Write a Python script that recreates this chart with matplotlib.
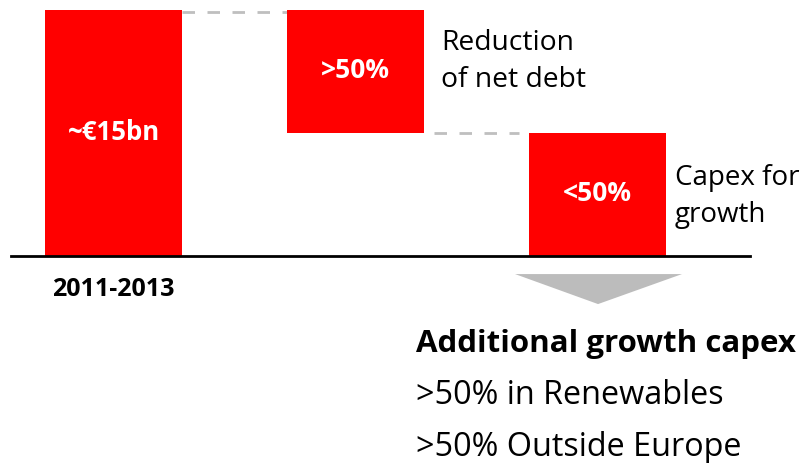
import matplotlib
matplotlib.use("Agg")
import matplotlib.pyplot as plt
from matplotlib.patches import Polygon

plt.rcParams['font.family'] = ['Open Sans', 'DejaVu Sans']

# Waterfall data (EUR bn)
steps = ["2011-2013", "Reduction of net debt", "Capex for growth"]
total = 15.0
debt_reduction = 7.5
growth_capex = 7.5
bar_labels = ["~€15bn", ">50%", "<50%"]
side_labels = ["Reduction\nof net debt", "Capex for\ngrowth"]
tick_label = "2011-2013"
summary_title = "Additional growth capex"
summary_lines = [">50% in Renewables", ">50% Outside Europe"]

RED = "#FF0000"
GREY = "#BFBFBF"

fig = plt.figure(figsize=(8.04, 4.63), dpi=100)
ax = fig.add_axes([0, 0, 1, 1])
ax.set_xlim(-0.469, 2.853)
ax.set_ylim(-12.62, 15.61)
ax.axis("off")

width = 0.566
x = [0, 1, 2]
bottoms = [0, total - debt_reduction, 0]
heights = [total, debt_reduction, growth_capex]
ax.bar(x, heights, bottom=bottoms, width=width, color=RED, zorder=2)

# connectors between bar tops
ax.plot([x[0] + width / 2, x[1] - width / 2], [total - 0.12, total - 0.12],
        color=GREY, lw=2.0, dashes=(4.5, 4.5), zorder=1)
ax.plot([x[1] + width / 2 + 0.04, x[2] - width / 2 - 0.04], [total - debt_reduction] * 2,
        color=GREY, lw=2.0, dashes=(4.5, 4.5), zorder=1)

# baseline
ax.plot([-0.4236, 2.63], [0, 0], color="black", lw=2.0, zorder=3)

# values inside bars
for xi, b, h, lab, fs in zip(x, bottoms, heights, bar_labels, [18.5, 19, 19]):
    ax.text(xi, b + h / 2 + 0.05, lab, color="white", fontsize=fs, fontweight="bold",
            ha="center", va="center", zorder=4)

# side annotations
ax.text(1.353, 11.85, side_labels[0], fontsize=20.3, ha="left", va="center",
        linespacing=1.4)
ax.text(2.320, 3.62, side_labels[1], fontsize=20, ha="left", va="center",
        linespacing=1.4)

# period label
ax.text(0, -2.07, tick_label, fontsize=18, fontweight="bold", ha="center", va="center")

# arrow pointing down from the growth capex bar
tri = Polygon([[1.659, -1.10], [2.349, -1.10], [2.002, -2.93]], closed=True,
              facecolor="#BCBCBC", edgecolor="none")
ax.add_patch(tri)

ax.text(1.25, -5.35, summary_title, fontsize=22.5, fontweight="bold", ha="left", va="center")
for yy, line in zip([-8.52, -11.69], summary_lines):
    ax.text(1.25, yy, line, fontsize=23.3, ha="left", va="center")

fig.savefig("out.png", dpi=100)
